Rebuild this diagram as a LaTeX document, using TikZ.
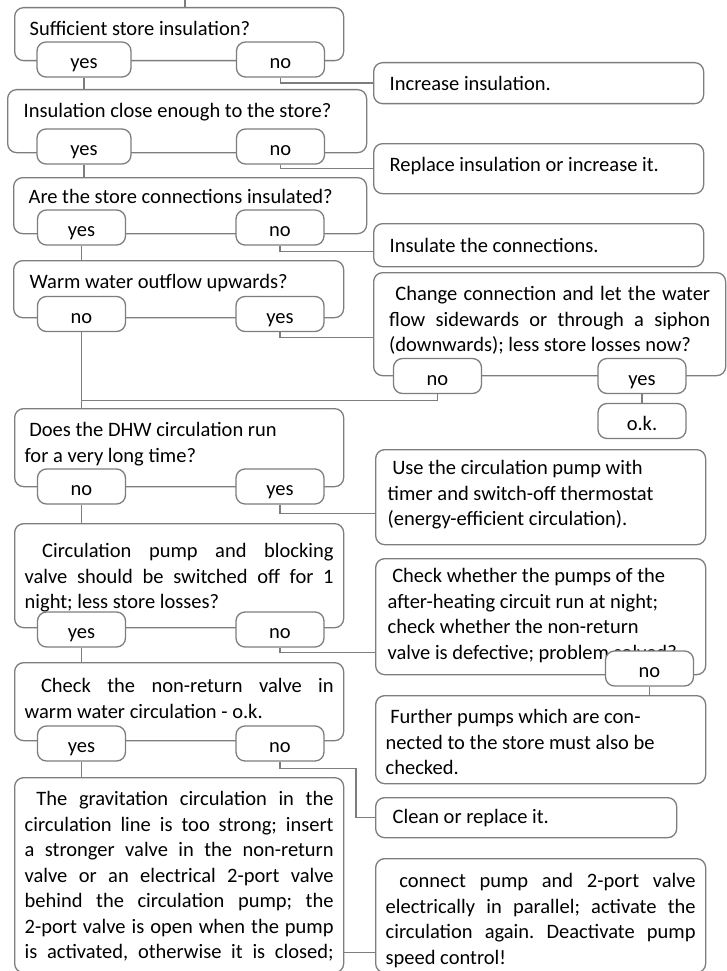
\documentclass[tikz,border=0pt]{standalone}
\usepackage{fontspec}
\setmainfont{Carlito}
\frenchspacing
\definecolor{gr}{RGB}{125,125,125}

\begin{document}
\begin{tikzpicture}[x=1pt, y=-1pt,
    bx/.style={draw=gr, line width=1.3pt, rounded corners=9pt, fill=white, anchor=north west, inner ysep=0pt, inner xsep=10pt, text height=28pt, align=justify, font=\fontsize{20.5}{25.5}\selectfont},
    pl/.style={draw=gr, line width=1.3pt, rounded corners=9pt, fill=white, minimum width=88pt, minimum height=35pt, inner sep=0pt, text height=22pt, text depth=4pt, font=\fontsize{20.5}{25.5}\selectfont},
    ln/.style={draw=gr, line width=1.3pt},
]
\useasboundingbox (0,0) rectangle (726,971);

\node[bx, inner xsep=15pt, text width=299pt, text depth=25pt] (q1) at (14,7) {Sufficient store insulation?};
\node[bx, inner xsep=16pt, text width=327pt, text depth=35pt] (q2) at (7,89) {Insulation close enough to the store?};
\node[bx, inner xsep=15pt, text width=323pt, text height=26pt, text depth=30pt] (q3) at (13,177) {Are the store connections insulated?};
\node[bx, inner xsep=16pt, text width=298pt, text depth=29pt] (q4) at (13,260) {Warm water outflow upwards?};
\node[bx, text width=309pt, text depth=50pt] (q5) at (14,408) {\ Does the DHW circulation run\\ for a very long time?};
\node[bx, text width=309pt, text height=34pt, text depth=70pt] (q6) at (14,523) {\ Circulation pump and blocking\linebreak valve should be switched off for 1\linebreak night; less store losses?};
\node[bx, text width=309pt, text height=30pt, text depth=48pt] (q7) at (14,662) {\ Check the non-return valve in\linebreak warm water circulation - o.k.};
\node[bx, text width=309pt, text depth=167pt] (q8) at (14,777) {\ The gravitation circulation in the\linebreak circulation line is too strong; insert\linebreak a stronger valve in the non-return\linebreak valve or an electrical 2-port valve\linebreak behind the circulation pump; the\linebreak 2-port valve is open when the pump\linebreak is activated, otherwise it is closed;\linebreak\mbox{}};

\node[bx, inner xsep=16pt, text width=298pt, text depth=13pt] (a1) at (373,62) {Increase insulation.};
\node[bx, inner xsep=16pt, text width=298pt, text depth=22pt] (a2) at (373,143) {Replace insulation or increase it.};
\node[bx, inner xsep=16pt, text width=298pt, text height=29pt, text depth=14pt] (a3) at (373,223) {Insulate the connections.};
\node[bx, inner xsep=15.5pt, text width=321pt, text depth=75pt] (a4) at (373,272) {\ Change connection and let the water\linebreak flow sidewards or through a siphon\linebreak (downwards); less store losses now?};
\node[bx, inner xsep=12pt, text width=306pt, text height=25pt, text depth=70pt] (a5) at (375,449) {\ Use the circulation pump with\\ timer and switch-off thermostat\\ (energy-efficient circulation).};
\node[bx, inner xsep=12pt, text width=306pt, text height=24pt, text depth=92pt] (a6) at (375,558) {\ Check whether the pumps of the\\ after-heating circuit run at night;\\ check whether the non-return\\ valve is defective; problem solved?};
\node[bx, text width=310pt, text depth=60pt] (a7) at (375,695) {\ Further pumps which are con-\\ nected to the store must also be\\ checked.};
\node[bx, inner xsep=17pt, text width=267pt, text height=26pt, text depth=14pt] (a8) at (375,797) {Clean or replace it.};
\node[bx, text width=310pt, text height=29pt, text depth=85pt] (a9) at (375,858) {\ connect pump and 2-port valve\linebreak electrically in parallel; activate the\linebreak circulation again. Deactivate pump\linebreak speed control!};

\node[pl, minimum width=94pt] (y1) at (84,59.5) {yes};
\node[pl] (n1) at (280.5,59.5) {no};
\node[pl, minimum width=94pt] (y2) at (84,146.5) {yes};
\node[pl] (n2) at (280.5,146.5) {no};
\node[pl] (y3) at (81.5,227.5) {yes};
\node[pl] (n3) at (280,227.5) {no};
\node[pl] (n4) at (81.5,314) {no};
\node[pl] (y4) at (280,314) {yes};
\node[pl] (n4r) at (437.5,376) {no};
\node[pl] (y4r) at (642,376) {yes};
\node[pl] (ok) at (642,421) {o.k.};
\node[pl] (n5) at (81.5,486.5) {no};
\node[pl] (y5) at (280,486.5) {yes};
\node[pl] (y6) at (81.5,629.5) {yes};
\node[pl] (n6) at (280,629.5) {no};
\node[pl] (n6r) at (649.5,668.5) {no};
\node[pl] (y7) at (81.5,743.5) {yes};
\node[pl] (n7) at (280,743.5) {no};

\coordinate (top) at (185,0);
\coordinate (g) at ([yshift=-77.5pt]q8.east);
\draw[ln] (top) -- (top |- q1.north);
\draw[ln] (y1.south) -- (y1.south |- q2.north);
\draw[ln] (n1.south) |- (a1.west);
\draw[ln] (y2.south) -- (y2.south |- q3.north);
\draw[ln] (n2.south) |- (a2.west);
\draw[ln] (y3.south) -- (y3.south |- q4.north);
\draw[ln] (n3.south) |- ([yshift=-6pt]a3.west);
\draw[ln] (n4.south) -- (n4.south |- q5.north);
\draw[ln] (n4r.south) -- ++(0,6) -| (n4.south);
\draw[ln] (y4.south) |- ([yshift=-13pt]a4.west);
\draw[ln] (y4r.south) -- (ok.north);
\draw[ln] (n5.south) -- (n5.south |- q6.north);
\draw[ln] (y5.south) |- ([yshift=-16pt]a5.west);
\draw[ln] (y6.south) -- (y6.south |- q7.north);
\draw[ln] (n6.south) |- ([yshift=-36pt]a6.west);
\draw[ln] (n6r.south) -- (n6r.south |- a7.north);
\draw[ln] (y7.south) -- (y7.south |- q8.north);
\draw[ln] (n7.south) -- ++(0,7) -| ([xshift=-19pt]a8.west) -- (a8.west);
\draw[ln] (g) -- (g -| a9.west);
\end{tikzpicture}
\end{document}
